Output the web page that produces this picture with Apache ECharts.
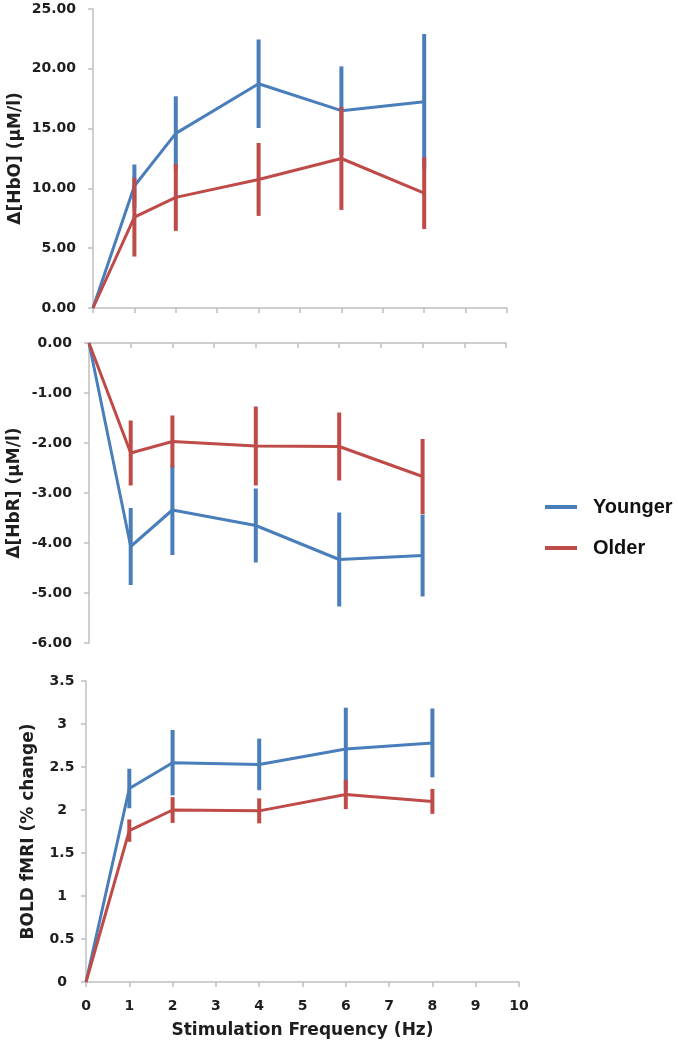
<!DOCTYPE html>
<html><head><meta charset="utf-8">
<script src="https://cdn.jsdelivr.net/npm/echarts@6/dist/echarts.min.js"></script>
<style>html,body{margin:0;padding:0;background:#fff}#c{width:678px;height:1050px}</style>
</head><body><div id="c"></div>
<script>
// Stimulation frequencies (Hz)
const freq = [0, 1, 2, 4, 6, 8];
const xTicks = [0, 1, 2, 3, 4, 5, 6, 7, 8, 9, 10];

// Δ[HbO] (μM/l)
const hboYoung    = [0, 10.2, 14.6, 18.75, 16.5, 17.25];
const hboYoungErr = [0, 1.8, 3.1, 3.7, 3.7, 5.65];
const hboOld      = [0, 7.6, 9.25, 10.75, 12.5, 9.6];
const hboOldErr   = [0, 3.3, 2.8, 3.05, 4.3, 3.0];
const hboTicks    = [0, 5, 10, 15, 20, 25];

// Δ[HbR] (μM/l)
const hbrYoung    = [0, -4.07, -3.34, -3.65, -4.33, -4.25];
const hbrYoungErr = [0, 0.77, 0.9, 0.74, 0.94, 0.82];
const hbrOld      = [0, -2.2, -1.97, -2.06, -2.07, -2.67];
const hbrOldErr   = [0, 0.65, 0.52, 0.79, 0.68, 0.75];
const hbrTicks    = [-6, -5, -4, -3, -2, -1, 0];

// BOLD fMRI (% change)
const boldYoung    = [0, 2.25, 2.55, 2.53, 2.71, 2.78];
const boldYoungErr = [0, 0.23, 0.38, 0.3, 0.48, 0.4];
const boldOld      = [0, 1.76, 2.0, 1.99, 2.18, 2.10];
const boldOldErr   = [0, 0.13, 0.15, 0.145, 0.17, 0.145];
const boldTicks    = [0, 0.5, 1, 1.5, 2, 2.5, 3, 3.5];

const seriesNames = ['Younger', 'Older'];
const BLUE = '#4A7EBB', RED = '#BE4B48';
const FONT = 'DejaVu Sans';
const TXT = '#1e1e1e';
const AXIS = '#BFBFBF';

function pts(ys) { return freq.map((f, i) => [f, ys[i]]); }
function errPts(ys, es) { return freq.map((f, i) => [f, ys[i], es[i]]); }
function errRender(color) {
  return function (params, api) {
    const x = api.value(0), y = api.value(1), e = api.value(2);
    if (!e) return null;
    const p1 = api.coord([x, y + e]), p2 = api.coord([x, y - e]);
    return { type: 'line', shape: { x1: p1[0], y1: p1[1], x2: p2[0], y2: p2[1] },
             style: { stroke: color, lineWidth: 4 } };
  };
}
function lineSeries(name, color, ys, idx, z) {
  return { type: 'line', name: name, xAxisIndex: idx, yAxisIndex: idx, data: pts(ys),
           showSymbol: false, symbol: 'none', z: z,
           lineStyle: { color: color, width: 3 }, itemStyle: { color: color } };
}
function errSeries(name, color, ys, es, idx, z) {
  return { type: 'custom', name: name + ' err', xAxisIndex: idx, yAxisIndex: idx,
           data: errPts(ys, es), encode: { x: 0, y: 1 }, renderItem: errRender(color), z: z };
}
const tickLbl = { fontFamily: FONT, fontWeight: 'bold', fontSize: 14, color: TXT };
const nameStyle = { fontFamily: FONT, fontWeight: 'bold', fontSize: 17, color: TXT };

function xAxisCfg(idx, pos, showLabels, inside) {
  return {
    type: 'value', gridIndex: idx, min: xTicks[0], max: xTicks[xTicks.length - 1], interval: 1,
    position: pos,
    axisLine: { show: true, onZero: false, lineStyle: { color: AXIS, width: 1.5 } },
    axisTick: { show: true, inside: inside, length: 5, lineStyle: { color: AXIS, width: 1.5 } },
    axisLabel: Object.assign({ show: showLabels, margin: 17 }, tickLbl),
    splitLine: { show: false },
    name: showLabels ? 'Stimulation Frequency (Hz)' : '',
    nameLocation: 'middle', nameGap: 40, nameMoveOverlap: false, nameTextStyle: nameStyle
  };
}
function yAxisCfg(idx, ticks, name, gap, fmt, labelExtra) {
  return {
    type: 'value', gridIndex: idx, min: ticks[0], max: ticks[ticks.length - 1],
    interval: ticks[1] - ticks[0],
    axisLine: { show: true, lineStyle: { color: AXIS, width: 1.5 } },
    axisTick: { show: true, length: 5, lineStyle: { color: AXIS, width: 1.5 } },
    axisLabel: Object.assign({ margin: 17, formatter: fmt }, tickLbl, labelExtra || {}),
    splitLine: { show: false },
    name: name, nameLocation: 'middle', nameGap: gap, nameMoveOverlap: false, nameTextStyle: nameStyle
  };
}

const chart = echarts.init(document.getElementById('c'), null, { renderer: 'canvas' });
chart.setOption({
  backgroundColor: '#ffffff',
  animation: false,
  grid: [
    { left: 93, top: 9, width: 414, height: 299, containLabel: false, outerBoundsMode: 'none' },
    { left: 89, top: 343, width: 417, height: 300, containLabel: false, outerBoundsMode: 'none' },
    { left: 86, top: 681, width: 433, height: 301, containLabel: false, outerBoundsMode: 'none' }
  ],
  legend: {
    data: seriesNames, orient: 'vertical', left: 545, top: 497, padding: 0,
    icon: 'rect', itemWidth: 32, itemHeight: 4, itemGap: 21,
    textStyle: { fontFamily: 'Liberation Sans', fontWeight: 'bold', fontSize: 20, color: '#111',
                 padding: [0, 0, 0, 11] }
  },
  xAxis: [ xAxisCfg(0, 'bottom', false, false), xAxisCfg(1, 'top', false, true), xAxisCfg(2, 'bottom', true, false) ],
  yAxis: [
    yAxisCfg(0, hboTicks, 'Δ[HbO] (μM/l)', 69, v => v.toFixed(2)),
    yAxisCfg(1, hbrTicks, 'Δ[HbR] (μM/l)', 66, v => v.toFixed(2)),
    yAxisCfg(2, boldTicks, 'BOLD fMRI (% change)', 49, v => String(v), { align: 'center', margin: 24 })
  ],
  series: [
    lineSeries('Younger', BLUE, hboYoung, 0, 2), errSeries('Younger', BLUE, hboYoung, hboYoungErr, 0, 3),
    lineSeries('Older', RED, hboOld, 0, 4), errSeries('Older', RED, hboOld, hboOldErr, 0, 5),
    lineSeries('Younger', BLUE, hbrYoung, 1, 2), errSeries('Younger', BLUE, hbrYoung, hbrYoungErr, 1, 3),
    lineSeries('Older', RED, hbrOld, 1, 4), errSeries('Older', RED, hbrOld, hbrOldErr, 1, 5),
    lineSeries('Younger', BLUE, boldYoung, 2, 2), errSeries('Younger', BLUE, boldYoung, boldYoungErr, 2, 3),
    lineSeries('Older', RED, boldOld, 2, 4), errSeries('Older', RED, boldOld, boldOldErr, 2, 5)
  ]
});
</script></body></html>
